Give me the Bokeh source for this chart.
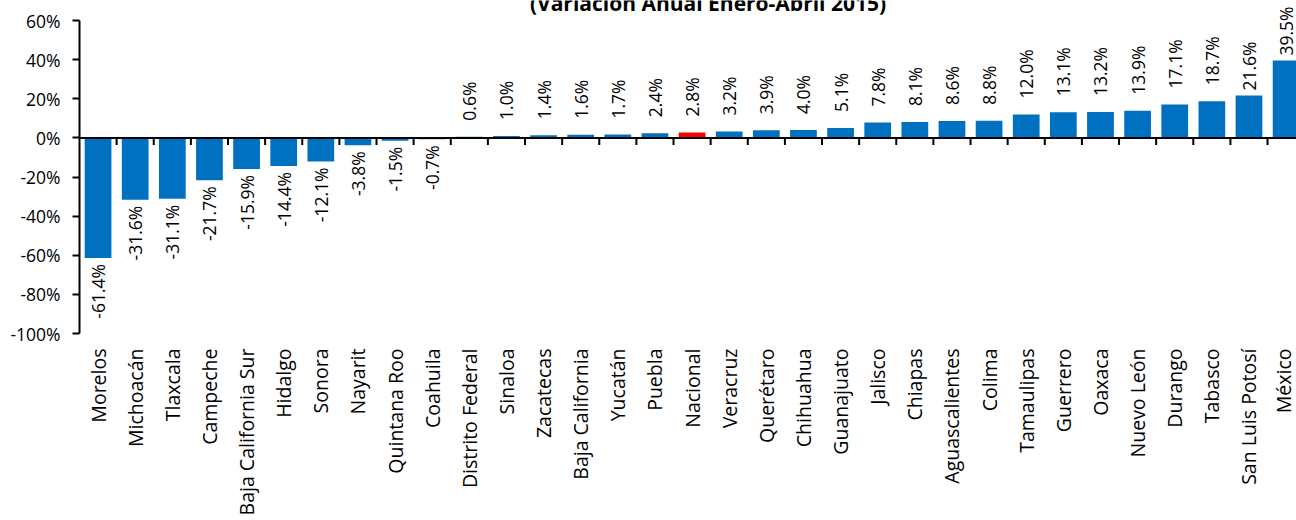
import math
from bokeh.plotting import figure
from bokeh.models import (Range1d, FixedTicker, NumeralTickFormatter,
                          ColumnDataSource, Label, Span)
from bokeh.core.properties import value
from bokeh.embed import file_html
from bokeh.resources import INLINE

# ---------------- data ----------------
states = ["Morelos", "Michoacán", "Tlaxcala", "Campeche", "Baja California Sur",
          "Hidalgo", "Sonora", "Nayarit", "Quintana Roo", "Coahuila",
          "Distrito Federal", "Sinaloa", "Zacatecas", "Baja California", "Yucatán",
          "Puebla", "Nacional", "Veracruz", "Querétaro", "Chihuahua",
          "Guanajuato", "Jalisco", "Chiapas", "Aguascalientes", "Colima",
          "Tamaulipas", "Guerrero", "Oaxaca", "Nuevo León", "Durango",
          "Tabasco", "San Luis Potosí", "México"]
values = [-61.4, -31.6, -31.1, -21.7, -15.9,
          -14.4, -12.1, -3.8, -1.5, -0.7,
          0.6, 1.0, 1.4, 1.6, 1.7,
          2.4, 2.8, 3.2, 3.9, 4.0,
          5.1, 7.8, 8.1, 8.6, 8.8,
          12.0, 13.1, 13.2, 13.9, 17.1,
          18.7, 21.6, 39.5]
highlight = "Nacional"
y_ticks = [-1.0, -0.8, -0.6, -0.4, -0.2, 0.0, 0.2, 0.4, 0.6]
title_text = "(Variación Anual Enero-Abril 2015)"

# ---------------- styles ----------------
FONT = "Open Sans"
BLUE = "#0070C0"
RED = "#FF0000"

n = len(states)
xs = [i + 0.5 for i in range(n)]
bounds = list(range(1, n))
frac = [v / 100.0 for v in values]
colors = [RED if s == highlight else BLUE for s in states]
texts = [f"{v:.1f}%" for v in values]

bars = ColumnDataSource(dict(x=xs, top=frac, color=colors))
pos_idx = [i for i, v in enumerate(values) if v >= 0]
neg_idx = [i for i, v in enumerate(values) if v < 0]
pos_src = ColumnDataSource(dict(x=[xs[i] for i in pos_idx], y=[frac[i] for i in pos_idx],
                                t=[texts[i] for i in pos_idx],
                                off=[-16 if values[i] < 20 else -5 for i in pos_idx]))
neg_src = ColumnDataSource(dict(x=[xs[i] for i in neg_idx], y=[frac[i] for i in neg_idx],
                                t=[texts[i] for i in neg_idx]))

W, H = 1296, 520
TOP_PAD = 20 / 313 * 1.6   # frame reaches the top of the canvas; axis stops at 60%
p = figure(width=W, height=H, output_backend="svg", toolbar_location=None,
           x_range=Range1d(0, 32.78), y_range=Range1d(-1.0, 0.6 + TOP_PAD),
           min_border_left=79, min_border_right=0, min_border_top=0,
           min_border_bottom=187)
p.outline_line_color = None
p.xgrid.visible = False
p.ygrid.visible = False
p.background_fill_color = "white"
p.border_fill_color = "white"

p.vbar(x="x", top="top", bottom=0, width=0.72, fill_color="color",
       line_color=None, source=bars)

# zero line and category boundary ticks
p.add_layout(Span(location=0, dimension="width", line_color="black", line_width=2))
p.ray(x=bounds, y=[0] * len(bounds), length=7, length_units="screen",
      angle=-math.pi / 2, line_color="black", line_width=2)

# value labels
p.text(x="x", y="y", text="t", source=pos_src, angle=math.pi / 2,
       text_align="left", text_baseline="middle", y_offset="off",
       text_font=value(FONT), text_font_size="17.5px", text_color="black")
p.text(x="x", y="y", text="t", source=neg_src, angle=math.pi / 2,
       text_align="right", text_baseline="middle", y_offset=6,
       text_font=value(FONT), text_font_size="17.5px", text_color="black")

# y axis
ya = p.yaxis[0]
ya.ticker = FixedTicker(ticks=y_ticks)
ya.bounds = (-1.0, 0.6)
ya.formatter = NumeralTickFormatter(format="0%")
ya.minor_tick_line_color = None
ya.major_tick_in = 0
ya.major_tick_out = 7
ya.major_tick_line_width = 2
ya.axis_line_width = 2
ya.axis_line_color = "black"
ya.major_tick_line_color = "black"
ya.major_label_standoff = 12
ya.major_label_text_font = FONT
ya.major_label_text_font_size = "17.5px"
ya.major_label_text_color = "black"

# category labels (bottom)
xa = p.xaxis[0]
xa.ticker = FixedTicker(ticks=xs)
xa.major_label_overrides = {x: s for x, s in zip(xs, states)}
xa.major_tick_in = 0
xa.major_tick_out = 0
xa.minor_tick_line_color = None
xa.major_tick_line_color = None
xa.axis_line_color = None
xa.major_label_orientation = math.pi / 2
xa.major_label_standoff = 15
xa.major_label_text_font = FONT
xa.major_label_text_font_size = "19.5px"
xa.major_label_text_color = "black"

# title (partly above the top edge, as in the reference)
p.add_layout(Label(x=628.5, y=331, x_units="screen", y_units="screen", text=title_text,
                   text_align="center", text_baseline="alphabetic",
                   text_font=FONT, text_font_style="bold",
                   text_font_size="21px", text_color="black"))

open("out.html", "w").write(file_html(p, INLINE))
